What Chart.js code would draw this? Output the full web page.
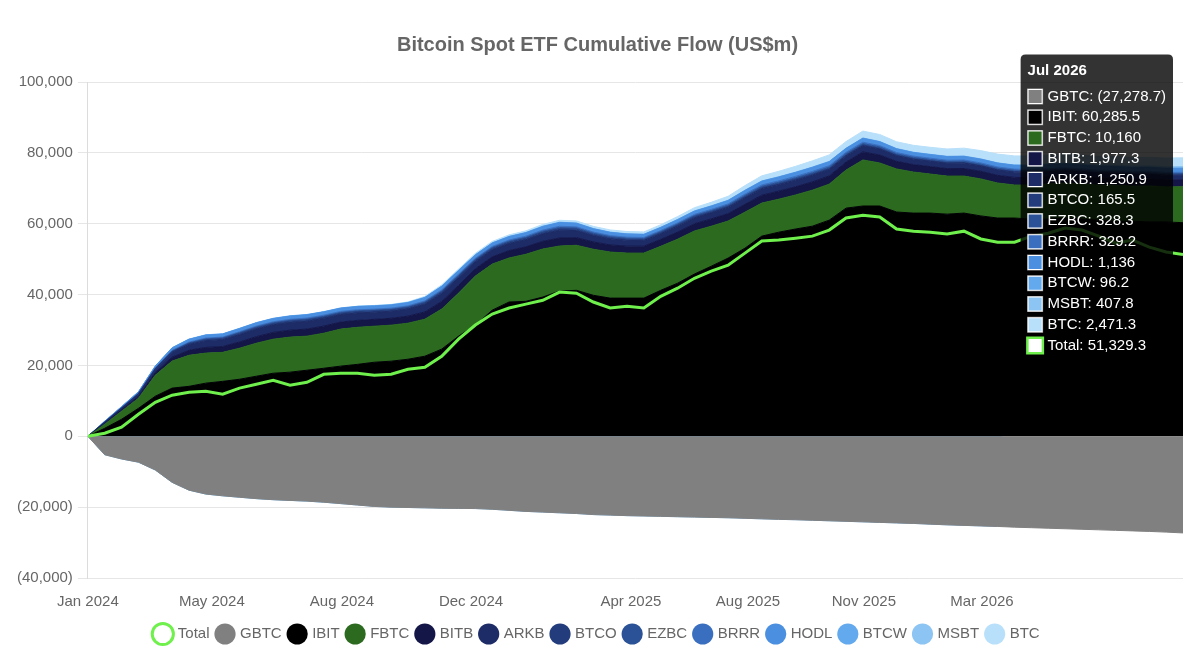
<!DOCTYPE html>
<html>
<head>
<meta charset="utf-8">
<title>Bitcoin Spot ETF Cumulative Flow</title>
<script src="https://cdn.jsdelivr.net/npm/chart.js@4.4.1/dist/chart.umd.min.js"></script>
<style>
  html, body { margin: 0; padding: 0; background: #fff; }
</style>
</head>
<body>
<canvas id="flow" width="1199" height="662"></canvas>
<script>
/* cumulative spot ETF flow, US$m — one value per sampled period */

// ── x axis labels ───────────────────────────────────────────
const tickLabels = ["Jan 2024", "May 2024", "Aug 2024", "Dec 2024", "Apr 2025", "Aug 2025", "Nov 2025", "Mar 2026"];
const tickAt     = [0, 7.36, 15.08, 22.74, 32.23, 39.18, 46.06, 53.07];
const tooltipTitle = "Jul 2026";

// ── series ──────────────────────────────────────────────────
const TOTAL = [0, 850, 2540, 6200, 9600, 11600, 12400, 12700, 11900, 13600,
  14700, 15800, 14400, 15250, 17500, 17800, 17800, 17200, 17500, 18900,
  19500, 22600, 27400, 31400, 34500, 36200, 37300, 38400, 40700, 40400,
  37900, 36200, 36700, 36200, 39500, 41800, 44600, 46600, 48300, 51700,
  55100, 55400, 55900, 56500, 58200, 61600, 62400, 61900, 58500, 57900,
  57600, 57100, 57900, 55700, 54800, 54800, 56500, 57300, 58800, 58200,
  56500, 54500, 55400, 53400, 52000, 51329.3];

const GBTC = [0, -5200, -6400, -7300, -9500, -13000, -15200, -16300, -16800, -17200,
  -17600, -17900, -18100, -18300, -18600, -19000, -19400, -19800, -20000, -20100,
  -20200, -20300, -20350, -20400, -20600, -20900, -21200, -21400, -21600, -21800,
  -22100, -22250, -22400, -22500, -22600, -22700, -22800, -22900, -23000, -23150,
  -23300, -23450, -23550, -23700, -23850, -24000, -24150, -24300, -24450, -24600,
  -24800, -25000, -25150, -25300, -25450, -25650, -25800, -25950, -26100, -26250,
  -26400, -26550, -26700, -26850, -27050, -27278.7];

const IBIT = [0, 2260, 4800, 7900, 11300, 13600, 14100, 15000, 15500, 16100,
  16950, 17800, 18100, 18650, 19200, 19800, 20300, 20900, 21200, 21750,
  22600, 24600, 28250, 31400, 35600, 37900, 38100, 39300, 41000, 41200,
  39800, 39000, 39000, 39000, 41200, 43200, 45800, 48000, 50300, 53100,
  56500, 57600, 58500, 59300, 61000, 64400, 65000, 65000, 63300, 63000,
  63000, 62700, 63000, 62200, 61600, 61600, 61300, 61300, 61600, 61300,
  61000, 60700, 60700, 60500, 60500, 60285.5];

const FBTC = [0, 1130, 2260, 2830, 5930, 7630, 8760, 8480, 8190, 8760,
  9320, 9610, 9890, 9610, 9890, 10450, 10450, 10170, 10170, 10170,
  10450, 11300, 12150, 13840, 13000, 12430, 13280, 13560, 12710, 12710,
  13000, 13000, 12710, 12710, 12430, 12430, 12150, 11300, 10450, 10170,
  9320, 9320, 9610, 10170, 10170, 10740, 13000, 12150, 12150, 11580,
  11020, 10740, 10450, 10450, 9890, 9320, 9610, 9890, 9890, 9890,
  9890, 10170, 9890, 10170, 9890, 10160];

const BITB = [0, 250, 380, 520, 750, 1100, 1400, 1600, 1650, 1750,
  1850, 1900, 1950, 2000, 2000, 1980, 1970, 1930, 1930, 1980,
  2050, 2150, 2150, 2050, 2050, 2080, 2100, 2180, 2250, 2150,
  2050, 2000, 1960, 1930, 1950, 2000, 2030, 2060, 2100, 2200,
  2230, 2260, 2300, 2330, 2310, 2250, 2260, 2230, 2150, 2100,
  2100, 2110, 2130, 2140, 2160, 2150, 2120, 2100, 2080, 2070,
  2050, 2040, 2010, 2000, 1990, 1977.3];

const ARKB = [0, 300, 450, 620, 900, 1350, 1650, 1900, 1920, 2100,
  2150, 2150, 2180, 2200, 2180, 2120, 2100, 2020, 2000, 2030,
  2150, 2250, 2200, 2000, 1980, 2000, 2000, 2100, 2200, 2000,
  1800, 1700, 1620, 1580, 1600, 1680, 1700, 1720, 1760, 1850,
  1850, 1850, 1870, 1880, 1830, 1750, 1750, 1700, 1580, 1520,
  1500, 1500, 1520, 1500, 1500, 1480, 1430, 1400, 1370, 1350,
  1320, 1300, 1280, 1270, 1260, 1250.9];

const BTCO = [0, 60, 90, 120, 160, 220, 260, 290, 300, 320,
  340, 350, 360, 370, 370, 360, 360, 350, 350, 360,
  380, 400, 400, 370, 370, 380, 380, 400, 420, 390,
  360, 340, 320, 300, 300, 310, 310, 300, 300, 310,
  300, 290, 290, 280, 260, 240, 230, 220, 200, 190,
  180, 180, 180, 180, 180, 175, 170, 170, 170, 168,
  168, 167, 166, 166, 165, 165.5];

const EZBC = [0, 50, 70, 100, 130, 170, 200, 220, 220, 230,
  240, 240, 250, 250, 250, 250, 250, 250, 250, 250,
  270, 290, 290, 280, 280, 290, 300, 320, 340, 330,
  310, 300, 290, 290, 290, 300, 310, 320, 330, 350,
  360, 370, 380, 390, 390, 380, 380, 370, 350, 340,
  340, 340, 340, 340, 345, 345, 340, 340, 335, 335,
  332, 330, 330, 329, 329, 328.3];

const BRRR = [0, 40, 60, 80, 120, 170, 200, 230, 230, 250,
  260, 270, 280, 290, 290, 280, 280, 270, 270, 280,
  300, 320, 320, 300, 300, 310, 320, 340, 360, 340,
  320, 310, 300, 300, 300, 310, 320, 330, 340, 360,
  370, 380, 390, 400, 400, 390, 390, 380, 360, 350,
  350, 350, 350, 345, 345, 340, 338, 336, 334, 333,
  332, 331, 330, 330, 329, 329.2];

const HODL = [0, 150, 230, 340, 480, 700, 780, 830, 830, 870,
  890, 890, 900, 910, 910, 900, 890, 870, 860, 870,
  930, 980, 980, 920, 920, 940, 950, 1000, 1040, 980,
  910, 880, 860, 840, 840, 880, 900, 920, 950, 1020,
  1050, 1080, 1110, 1130, 1120, 1080, 1090, 1070, 1020, 1000,
  1000, 1010, 1030, 1040, 1060, 1060, 1050, 1060, 1070, 1080,
  1090, 1100, 1110, 1120, 1130, 1136];

const BTCW = [0, 30, 50, 60, 70, 80, 90, 100, 100, 100,
  100, 100, 100, 100, 100, 100, 100, 100, 100, 100,
  105, 110, 110, 105, 105, 105, 105, 110, 110, 105,
  100, 100, 100, 100, 100, 100, 100, 100, 100, 100,
  100, 100, 100, 100, 100, 100, 100, 100, 100, 98,
  98, 98, 98, 98, 98, 98, 97, 97, 97, 97,
  97, 96, 96, 96, 96, 96.2];

const MSBT = [0, 0, 0, 0, 0, 0, 0, 0, 0, 0,
  0, 0, 0, 0, 0, 0, 0, 0, 0, 0,
  0, 0, 0, 0, 0, 0, 0, 0, 0, 0,
  0, 0, 0, 0, 0, 0, 0, 0, 0, 0,
  0, 0, 0, 0, 0, 0, 0, 0, 0, 0,
  0, 0, 0, 0, 0, 80, 150, 200, 240, 270,
  300, 330, 360, 380, 400, 407.8];

const BTC = [0, 0, 0, 0, 0, 0, 0, 0, 0, 0,
  0, 0, 0, 0, 0, 0, 50, 80, 110, 150,
  240, 330, 340, 380, 400, 420, 450, 500, 540, 580,
  600, 620, 640, 640, 700, 800, 900, 1000, 1120, 1300,
  1440, 1540, 1640, 1760, 1850, 1860, 1950, 1970, 1920, 1950,
  1980, 2070, 2230, 2340, 2470, 2500, 2510, 2500, 2450, 2430,
  2400, 2390, 2380, 2390, 2430, 2471.3];

// ── styling ─────────────────────────────────────────────────
const GREEN = "#6ff04c";
const GREY  = "#666";
const stackSeries = [
  ["GBTC", GBTC, "#808080", "origin"],
  ["IBIT", IBIT, "#000000", "origin"],
  ["FBTC", FBTC, "#2c6a1f", "-1"],
  ["BITB", BITB, "#141648", "-1"],
  ["ARKB", ARKB, "#1d2b66", "-1"],
  ["BTCO", BTCO, "#233c7c", "-1"],
  ["EZBC", EZBC, "#2b5296", "-1"],
  ["BRRR", BRRR, "#3a6fbf", "-1"],
  ["HODL", HODL, "#4a8fe0", "-1"],
  ["BTCW", BTCW, "#62a9ee", "-1"],
  ["MSBT", MSBT, "#8cc5f3", "-1"],
  ["BTC",  BTC,  "#b9e0fa", "-1"],
];

const nf = new Intl.NumberFormat("en-US", { maximumFractionDigits: 1 });
const money = v => v < 0 ? "(" + nf.format(-v) + ")" : nf.format(v);

Chart.defaults.font.family = "'Helvetica Neue', Helvetica, Arial, 'Liberation Sans', sans-serif";
Chart.defaults.font.size = 15;

// pin the tooltip to the right-hand edge, like the screenshot
Chart.Tooltip.positioners.pinRight = function () {
  const a = this.chart.chartArea;
  return { x: a.right - 10, y: a.top + 127.5 };
};

const datasets = [{
  label: "Total", data: TOTAL, stack: "total", fill: false,
  borderColor: GREEN, backgroundColor: "#fff", borderWidth: 3,
  pointRadius: 0, pointHoverRadius: 0,
  pointBorderColor: GREEN, pointBackgroundColor: "#fff", pointBorderWidth: 3,
  tension: 0,
}].concat(stackSeries.map(([label, data, color, fill]) => ({
  label, data, fill,
  backgroundColor: color, borderColor: color, borderWidth: 1,
  pointRadius: 0, pointHoverRadius: 0, pointBorderWidth: 0,
  tension: 0,
})));

const chart = new Chart(document.getElementById("flow"), {
  type: "line",
  data: { labels: TOTAL.map((_, i) => i), datasets },
  options: {
    responsive: false,
    animation: false,
    events: [],
    layout: { padding: { top: 11, left: 12, right: 16, bottom: 10.5 } },
    scales: {
      x: {
        type: "linear", min: 0, max: TOTAL.length - 1,
        grid: { display: false, drawTicks: false },
        border: { display: false },
        afterBuildTicks: s => { s.ticks = tickAt.map(v => ({ value: v })); },
        afterFit: s => { s.height = 40.5; },
        ticks: { autoSkip: false, maxRotation: 0, padding: 15, color: GREY,
                 callback: (v, i) => tickLabels[i] },
      },
      y: {
        stacked: true, min: -40000, max: 100000,
        grid: { color: "#e6e6e6", tickLength: 10 },
        border: { color: "#dcdcdc" },
        ticks: { stepSize: 20000, padding: 5, color: GREY, callback: v => money(v) },
      },
    },
    plugins: {
      title: {
        display: true, text: "Bitcoin Spot ETF Cumulative Flow (US$m)",
        color: GREY, font: { size: 20, weight: "bold" },
        padding: { top: 22, bottom: 25 },
      },
      legend: {
        position: "bottom",
        labels: { usePointStyle: true, pointStyle: "circle", color: GREY, padding: 8 },
      },
      tooltip: {
        position: "pinRight", xAlign: "right", yAlign: "center",
        caretSize: 0, caretPadding: 0, cornerRadius: 5,
        backgroundColor: "rgba(0,0,0,0.8)",
        titleColor: "#fff", bodyColor: "#fff",
        titleFont: { size: 15, weight: "bold" }, bodyFont: { size: 15 },
        padding: { top: 7, bottom: 10, left: 7, right: 7 },
        bodySpacing: 2.75, titleMarginBottom: 8,
        boxWidth: 15, boxHeight: 15, boxPadding: 3,
        itemSort: (a, b) => (a.datasetIndex || 99) - (b.datasetIndex || 99),
        callbacks: {
          title: () => tooltipTitle,
          label: c => c.dataset.label + ": " + money(c.parsed.y),
          labelColor: c => c.datasetIndex === 0
            ? { borderColor: GREEN, backgroundColor: "#fff", borderWidth: 3 }
            : { borderColor: "rgba(255,255,255,0.55)", backgroundColor: c.dataset.backgroundColor, borderWidth: 1 },
        },
      },
    },
  },
});

// ── show the last period's tooltip, as in the screenshot ────
const last = TOTAL.length - 1;
chart.tooltip.setActiveElements(datasets.map((_, i) => ({ datasetIndex: i, index: last })), { x: 0, y: 0 });
chart.update();
</script>
</body>
</html>
